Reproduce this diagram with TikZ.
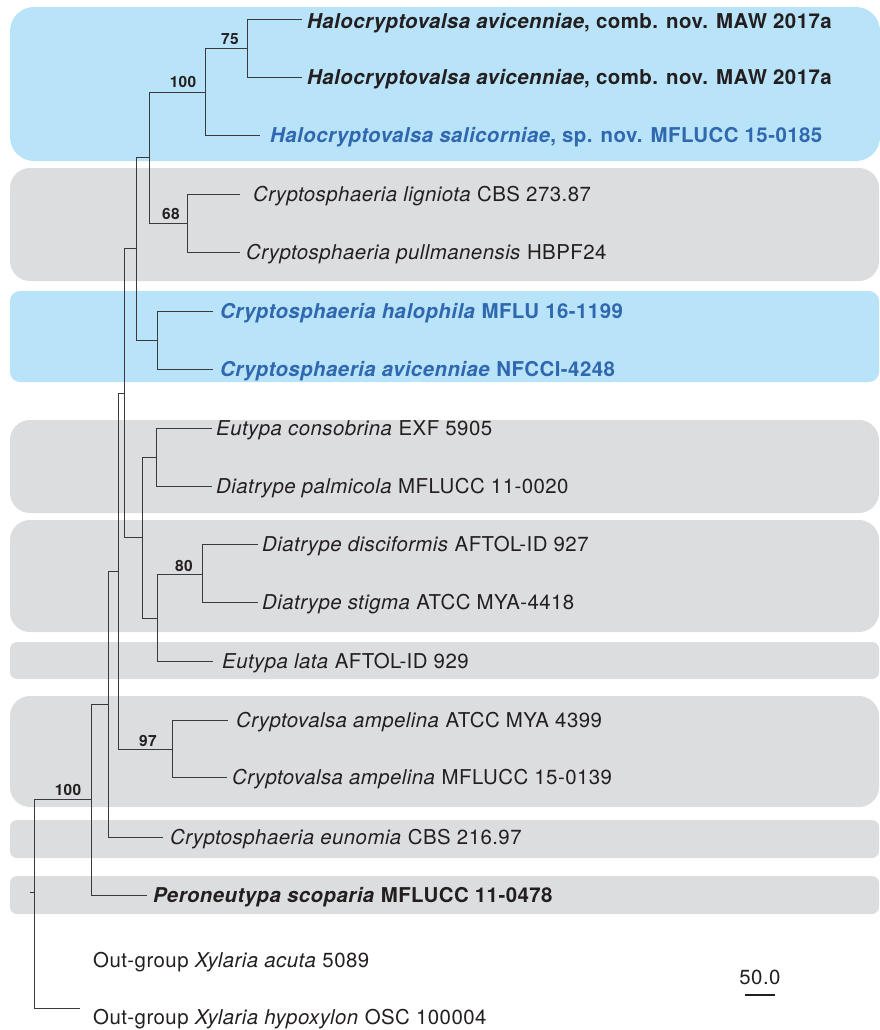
\documentclass[tikz,border=0pt]{standalone}
\usepackage{fontspec}
\setmainfont[LetterSpace=2.2]{TeX Gyre Heros}
\definecolor{boxblue}{HTML}{B8E3F8}
\definecolor{boxgray}{HTML}{DCDDDF}
\definecolor{txtblue}{HTML}{3068B0}
\definecolor{txtdark}{HTML}{231F20}
\definecolor{branch}{HTML}{3A3A3A}
\tikzset{
  branchline/.style={draw=branch, line width=0.9bp},
  taxon/.style={anchor=base west, inner sep=0pt, font=\fontsize{20.5}{24}\selectfont, text=txtdark},
  boldtaxon/.style={taxon, font=\fontsize{20.5}{24}\selectfont\bfseries},
  newtaxon/.style={taxon, text=txtblue, font=\fontsize{20.5}{24}\selectfont\bfseries},
  support/.style={anchor=base, inner sep=0pt, font=\fontsize{15.5}{18}\selectfont\bfseries, text=txtdark},
  bigband/.style={rounded corners=20bp},
  thinband/.style={rounded corners=7bp},
}
\begin{document}
\begin{tikzpicture}[x=1bp,y=-1bp]
\useasboundingbox (0,0) rectangle (880,1030);
% background bands
\fill[boxblue, rounded corners=24bp] (10,7) rectangle (880,161);
\fill[boxgray, bigband] (10,168) rectangle (879,281);
\fill[boxblue, rounded corners=10bp] (10,291) rectangle (879,382);
\fill[boxgray, bigband] (10,420) rectangle (879,513);
\fill[boxgray, bigband] (10,520) rectangle (879,632);
\fill[boxgray, thinband] (10,642) rectangle (879,679);
\fill[boxgray, bigband] (10,696) rectangle (879,807);
\fill[boxgray, thinband] (10,820) rectangle (879,858);
\fill[boxgray, thinband] (10,876) rectangle (879,914);

% internal nodes
\coordinate (n75) at (247,48);
\coordinate (n100a) at (205,92);
\coordinate (n68) at (187,223);
\coordinate (nA) at (149,157);
\coordinate (nH) at (157,340);
\coordinate (nB) at (136,248);
\coordinate (nE) at (156,457);
\coordinate (n80) at (202,574);
\coordinate (nF) at (157,618);
\coordinate (nC) at (142,537);
\coordinate (nD) at (124,393);
\coordinate (n97) at (172,749);
\coordinate (nG) at (118,571);
\coordinate (nI) at (108,704);
\coordinate (nJ) at (91,799);
\coordinate (root) at (34,892);
\coordinate (rootstub) at (30,892);

% leaf tips
\coordinate (t1) at (302,19);
\coordinate (t2) at (302,77);
\coordinate (t3) at (260,135);
\coordinate (t4) at (240,194);
\coordinate (t5) at (240,252);
\coordinate (t6) at (213,311);
\coordinate (t7) at (213,369);
\coordinate (t8) at (212,428);
\coordinate (t9) at (212,486);
\coordinate (t10) at (258,544);
\coordinate (t11) at (258,602);
\coordinate (t12) at (213,661);
\coordinate (t13) at (228,720);
\coordinate (t14) at (227,777);
\coordinate (t15) at (163,837);
\coordinate (t16) at (147,895);
\coordinate (t18) at (80,1008);

% branches
\draw[branchline] (n75) |- (t1);
\draw[branchline] (n75) |- (t2);
\draw[branchline] (n100a) |- (n75);
\draw[branchline] (n100a) |- (t3);
\draw[branchline] (n68) |- (t4);
\draw[branchline] (n68) |- (t5);
\draw[branchline] (nA) |- (n100a);
\draw[branchline] (nA) |- (n68);
\draw[branchline] (nH) |- (t6);
\draw[branchline] (nH) |- (t7);
\draw[branchline] (nB) |- (nA);
\draw[branchline] (nB) |- (nH);
\draw[branchline] (nE) |- (t8);
\draw[branchline] (nE) |- (t9);
\draw[branchline] (n80) |- (t10);
\draw[branchline] (n80) |- (t11);
\draw[branchline] (nF) |- (n80);
\draw[branchline] (nF) |- (t12);
\draw[branchline] (nC) |- (nE);
\draw[branchline] (nC) |- (nF);
\draw[branchline] (nD) |- (nB);
\draw[branchline] (nD) |- (nC);
\draw[branchline] (n97) |- (t13);
\draw[branchline] (n97) |- (t14);
\draw[branchline] (nG) |- (nD);
\draw[branchline] (nG) |- (n97);
\draw[branchline] (nI) |- (nG);
\draw[branchline] (nI) |- (t15);
\draw[branchline] (nJ) |- (nI);
\draw[branchline] (nJ) |- (t16);
\draw[branchline] (root) |- (nJ);
\draw[branchline] (root) |- (t18);
\draw[branchline] (rootstub) -- (root);

% support values
\node[support] (s75) at (230,44) {75};
\node[support] (s100a) at (183,87) {100};
\node[support] (s68) at (171,219) {68};
\node[support] (s80) at (184,571) {80};
\node[support] (s97) at (148,746) {97};
\node[support] (s100b) at (68,795) {100};

% taxon labels
\node[boldtaxon] (L1) at (307,28) {\textit{Halocryptovalsa avicenniae}, comb. nov. MAW 2017a};
\node[boldtaxon] (L2) at (307,84) {\textit{Halocryptovalsa avicenniae}, comb. nov. MAW 2017a};
\node[newtaxon] (L3) at (270,142) {\textit{Halocryptovalsa salicorniae}, sp. nov. MFLUCC 15-0185};
\node[taxon] (L4) at (253,201) {\textit{Cryptosphaeria ligniota} CBS 273.87};
\node[taxon] (L5) at (246,259) {\textit{Cryptosphaeria pullmanensis} HBPF24};
\node[newtaxon] (L6) at (220,318) {\textit{Cryptosphaeria halophila} MFLU 16-1199};
\node[newtaxon] (L7) at (220,376) {\textit{Cryptosphaeria avicenniae} NFCCI-4248};
\node[taxon] (L8) at (216,435) {\textit{Eutypa consobrina} EXF 5905};
\node[taxon] (L9) at (216,493) {\textit{Diatrype palmicola} MFLUCC 11-0020};
\node[taxon] (L10) at (262,551) {\textit{Diatrype disciformis} AFTOL-ID 927};
\node[taxon] (L11) at (262,609) {\textit{Diatrype stigma} ATCC MYA-4418};
\node[taxon] (L12) at (222,668) {\textit{Eutypa lata} AFTOL-ID 929};
\node[taxon] (L13) at (236,727) {\textit{Cryptovalsa ampelina} ATCC MYA 4399};
\node[taxon] (L14) at (232,784) {\textit{Cryptovalsa ampelina} MFLUCC 15-0139};
\node[taxon] (L15) at (170,844) {\textit{Cryptosphaeria eunomia} CBS 216.97};
\node[boldtaxon] (L16) at (153,902) {\textit{Peroneutypa scoparia} MFLUCC 11-0478};
\node[taxon] (L17) at (93,967) {Out-group \textit{Xylaria acuta} 5089};
\node[taxon] (L18) at (93,1024) {Out-group \textit{Xylaria hypoxylon} OSC 100004};

% scale bar
\coordinate (sbL) at (745,995);
\coordinate (sbR) at (775,995);
\draw[draw=txtdark, line width=2.5bp] (sbL) -- (sbR);
\node[taxon, anchor=base] (sbT) at (760,984) {50.0};
\end{tikzpicture}
\end{document}
